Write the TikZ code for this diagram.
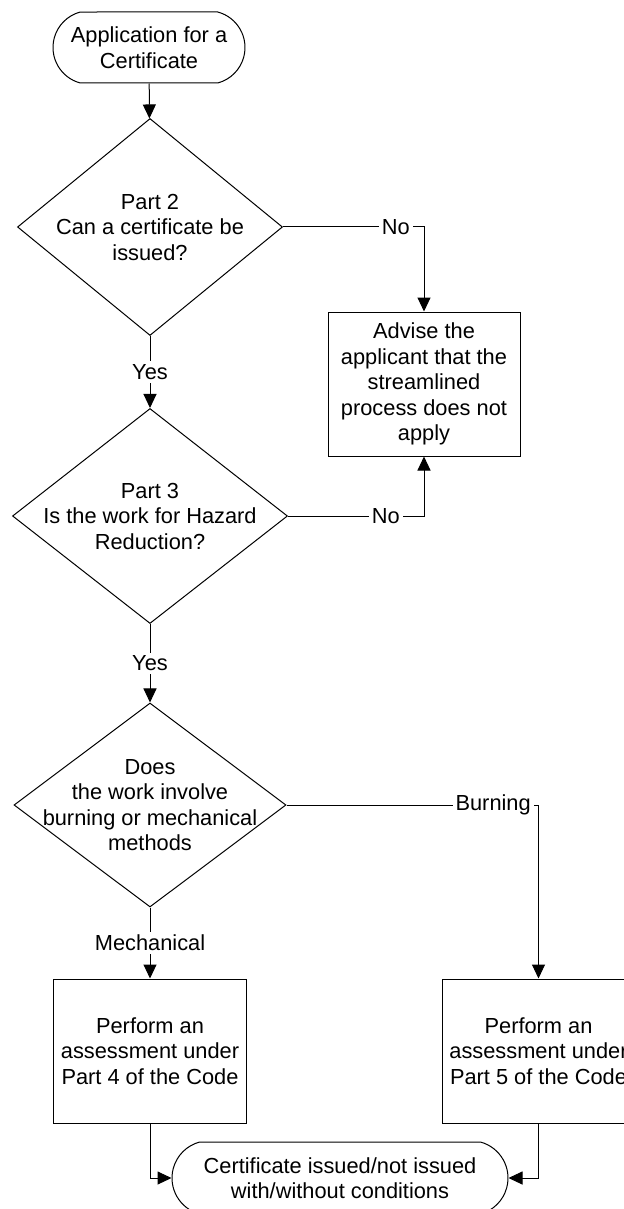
\documentclass[tikz,border=0pt]{standalone}
\usepackage{fontspec}
\setmainfont{Liberation Sans}
\usetikzlibrary{arrows.meta, shapes.geometric, shapes.misc}

\tikzset{
  terminal/.style={draw, rounded rectangle, rounded rectangle arc length=150, inner sep=0pt, align=center},
  decision/.style={draw, diamond, inner sep=0pt},
  qtext/.style={align=center, inner sep=0pt},
  process/.style={draw, rectangle, inner sep=0pt, align=center},
  answer/.style={fill=white, inner sep=1.5pt}
}

\begin{document}
\begin{tikzpicture}[x=0.5pt, y=-0.5pt, line width=0.5pt,
    >={Triangle[length=7pt, width=6.5pt]},
    font=\fontsize{10.9}{12.75}\selectfont]
  \useasboundingbox (0,0) rectangle (624,1209);

  % Start
  \node[terminal, minimum width=96pt, minimum height=35.5pt] (start) at (149,47.5)
    {Application for a\\Certificate};

  % Rozhodovani
  \node[decision, minimum width=132.5pt, minimum height=108.5pt,
    label={[qtext]center:Part 2\\Can a certificate be\\issued?}] (q1) at (150,227) {};
  \node[decision, minimum width=137.5pt, minimum height=107.5pt,
    label={[qtext]center:Part 3\\Is the work for Hazard\\Reduction?}] (q2) at (150,516) {};
  \node[decision, minimum width=136pt, minimum height=102pt,
    label={[qtext]center:Does\\the work involve\\burning or mechanical\\methods}] (q3) at (150,805) {};

  % Kroky
  \node[process, minimum width=96pt, minimum height=72pt] (advise) at (424,384)
    {Advise the\\applicant that the\\streamlined\\process does not\\apply};
  \node[process, minimum width=96.5pt, minimum height=72pt] (part4) at (150,1051)
    {Perform an\\assessment under\\Part 4 of the Code};
  \node[process, minimum width=96.5pt, minimum height=72pt] (part5) at (538.5,1051)
    {Perform an\\assessment under\\Part 5 of the Code};

  % Konec
  \node[terminal, minimum width=168pt, minimum height=36pt] (done) at (340,1178)
    {Certificate issued/not issued\\with/without conditions};

  % Spoje
  \draw[->] (start) -- (q1);
  \draw[->] (q1) -- node[answer] {Yes} (q2);
  \draw[->] (q2) -- node[answer] {Yes} (q3);
  \draw[->] (q1.east) -| node[answer, pos=0.4] {No} (advise.north);
  \draw[->] (q2.east) -| node[answer, pos=0.36] {No} (advise.south);
  \draw[->] (q3) -- node[answer] {Mechanical} (part4);
  \draw[->] (q3.east) -| node[answer, pos=0.41] {Burning} (part5.north);
  \draw[->] (part4.south) |- (done.west);
  \draw[->] (part5.south) |- (done.east);
\end{tikzpicture}
\end{document}
